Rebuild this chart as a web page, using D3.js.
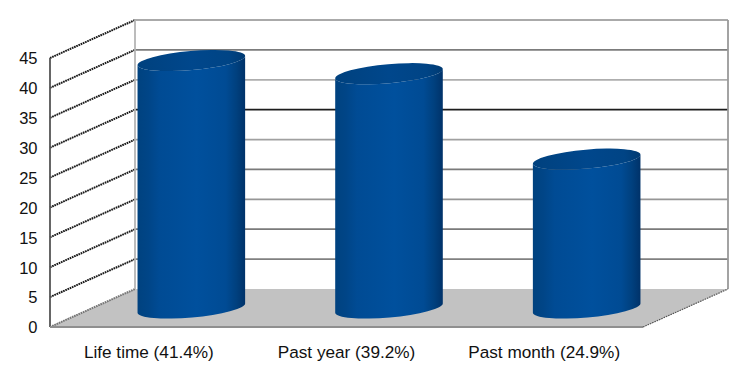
<!DOCTYPE html>
<html>
<head>
<meta charset="utf-8">
<script src="https://cdn.jsdelivr.net/npm/d3@7"></script>
<style>
  body { margin: 0; background: #fff; }
  text { font-family: "Liberation Sans", Arial, sans-serif; fill: #111; }
</style>
</head>
<body>
<div id="wrapper"></div>
<script>
const categories = ['Life time (41.4%)', 'Past year (39.2%)', 'Past month (24.9%)']
const values = [41.4, 39.2, 24.9]
const yTicks = [0, 5, 10, 15, 20, 25, 30, 35, 40, 45]
const gridColors = ['#8a8a8a', '#808080', '#7a7a7a', '#969696', '#7a7a7a', '#a0a0a0', '#1c1c1c', '#aeaeae', '#7c7c7c', '#aaaaaa']

function drawChart() {
  // 1. Dimensions
  const dimensions = { width: 750, height: 384, left: 50, right: 643, top: 58, bottom: 327 }
  const depth = { x: 85, y: -38 }

  const wrapper = d3
    .select('#wrapper')
    .append('svg')
    .attr('width', dimensions.width)
    .attr('height', dimensions.height)
    .style('display', 'block')

  // 2. Scales (front plane of the 3d box)
  const xScale = d3
    .scaleBand()
    .domain(categories)
    .range([dimensions.left, dimensions.right])

  const yScale = d3
    .scaleLinear()
    .domain([0, 45])
    .range([dimensions.bottom, dimensions.top])

  // 3. Gradients for cylinder bodies and tops
  const defs = wrapper.append('defs')
  const bodyGradient = defs.append('linearGradient').attr('id', 'body')
  const bodyStops = [
    [0, '#00427f'], [0.1, '#004587'], [0.2, '#004b94'], [0.55, '#00509d'],
    [0.82, '#004b94'], [0.92, '#00407e'], [1, '#003269'],
  ]
  bodyStops.forEach((s) =>
    bodyGradient.append('stop').attr('offset', s[0]).attr('stop-color', s[1])
  )
  const topGradient = defs.append('linearGradient').attr('id', 'top')
  const topStops = [[0, '#00417e'], [0.5, '#00478c'], [0.85, '#004485'], [1, '#003a72']]
  topStops.forEach((s) =>
    topGradient.append('stop').attr('offset', s[0]).attr('stop-color', s[1])
  )

  // 4. Floor and walls
  const x0 = dimensions.left
  const x1 = dimensions.right
  const floorY = yScale(0)
  const floor = [
    [x0, floorY], [x1, floorY], [x1 + depth.x, floorY + depth.y], [x0 + depth.x, floorY + depth.y],
  ]
  wrapper
    .append('polygon')
    .attr('points', floor.join(' '))
    .attr('fill', '#c2c2c2')

  // back wall grid lines
  wrapper
    .selectAll('.grid')
    .data(yTicks.filter((d) => d > 0))
    .enter()
    .append('line')
    .attr('class', 'grid')
    .attr('x1', x0 + depth.x)
    .attr('x2', x1 + depth.x)
    .attr('y1', (d) => yScale(d) + depth.y)
    .attr('y2', (d) => yScale(d) + depth.y)
    .attr('stroke', (d) => gridColors[yTicks.indexOf(d)])
    .attr('stroke-width', 1.8)

  // side wall dotted lines
  wrapper
    .selectAll('.side')
    .data(yTicks)
    .enter()
    .append('line')
    .attr('class', 'side')
    .attr('x1', x0)
    .attr('x2', x0 + depth.x)
    .attr('y1', (d) => yScale(d))
    .attr('y2', (d) => yScale(d) + depth.y)
    .attr('stroke', (d) => (d === 0 ? '#777' : '#1a1a1a'))
    .attr('stroke-width', 2)
    .attr('stroke-dasharray', '1.7 0.7')

  // wall edges
  const edges = [
    [x0 + depth.x, yScale(45) + depth.y, x0 + depth.x, floorY + depth.y, '#b5b5b5'],
    [x1 + depth.x, yScale(45) + depth.y, x1 + depth.x, floorY + depth.y, '#999'],
    [x0, yScale(45), x0, floorY, '#555'],
    [x0, floorY, x1, floorY, '#8f8f8f'],
  ]
  wrapper
    .selectAll('.edge')
    .data(edges)
    .enter()
    .append('line')
    .attr('class', 'edge')
    .attr('x1', (d) => d[0])
    .attr('y1', (d) => d[1])
    .attr('x2', (d) => d[2])
    .attr('y2', (d) => d[3])
    .attr('stroke', (d) => d[4])
    .attr('stroke-width', 1.8)

  // right floor edge
  wrapper
    .append('line')
    .attr('x1', x1)
    .attr('y1', floorY)
    .attr('x2', x1 + depth.x)
    .attr('y2', floorY + depth.y)
    .attr('stroke', '#555')
    .attr('stroke-width', 1.2)
    .attr('stroke-dasharray', '1.6 0.9')

  // 5. Cylinders, standing half way into the box
  const rx = 54
  const ry = 9.5
  const tiltDeg = -5
  const tilt = (tiltDeg * Math.PI) / 180
  const dx = rx * Math.cos(tilt)
  const dy = rx * Math.sin(tilt)

  const cylinders = wrapper
    .selectAll('.cylinder')
    .data(values)
    .enter()
    .append('g')
    .attr('class', 'cylinder')
    .attr('transform', (d, i) => {
      const cx = xScale(categories[i]) + xScale.bandwidth() / 2 + depth.x / 2
      return `translate(${cx},${depth.y / 2})`
    })

  cylinders
    .append('path')
    .attr('fill', 'url(#body)')
    .attr('d', (d) => {
      const top = yScale(d)
      const bottom = yScale(0)
      return (
        `M${-dx},${top - dy} L${-dx},${bottom - dy} ` +
        `A${rx},${ry} ${tiltDeg} 0 0 ${dx},${bottom + dy} ` +
        `L${dx},${top + dy} ` +
        `A${rx},${ry} ${tiltDeg} 0 1 ${-dx},${top - dy} Z`
      )
    })

  cylinders
    .append('ellipse')
    .attr('rx', rx)
    .attr('ry', ry)
    .attr('fill', 'url(#top)')
    .attr('transform', (d) => `translate(0,${yScale(d)}) rotate(${tiltDeg})`)

  // 6. Axes
  const yAxis = wrapper
    .append('g')
    .attr('transform', `translate(${x0 - 12.5},0.5)`)
    .call(d3.axisLeft(yScale).tickValues(yTicks).tickSize(0).tickPadding(0))
  yAxis.select('.domain').remove()
  yAxis.selectAll('text').style('font-size', '16.5px').style('font-family', '"Liberation Sans", Arial, sans-serif')

  const xAxis = wrapper
    .append('g')
    .attr('transform', `translate(0,${floorY + 18.5})`)
    .call(d3.axisBottom(xScale).tickSize(0).tickPadding(0))
  xAxis.select('.domain').remove()
  xAxis.selectAll('text').style('font-size', '17.2px').style('font-family', '"Liberation Sans", Arial, sans-serif')
}
drawChart()
</script>
</body>
</html>
